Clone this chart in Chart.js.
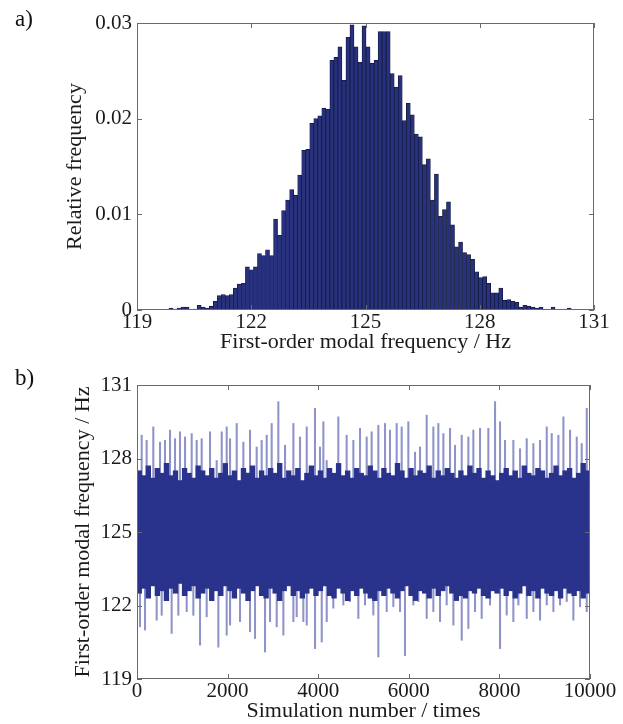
<!DOCTYPE html>
<html>
<head>
<meta charset="utf-8">
<script src="https://cdn.jsdelivr.net/npm/chart.js@4.4.1/dist/chart.umd.min.js"></script>
<style>
  body { margin: 0; background: #fff; }
  #wrap { position: relative; width: 623px; height: 724px; }
  canvas { position: absolute; left: 0; }
  .tag { position: absolute; font-family: "Liberation Serif", serif; font-size: 23px; color: #111; line-height: 1; }
</style>
</head>
<body>
<div id="wrap">
  <canvas id="histChart" width="623" height="362" style="top:0"></canvas>
  <canvas id="simChart" width="623" height="362" style="top:362px"></canvas>
  <div class="tag" style="left:15px; top:7px;">a)</div>
  <div class="tag" style="left:15px; top:366px;">b)</div>
</div>
<script>

// PANEL A DATA (histogram, 100 bins)

const binStart = 119.84;
const binWidth = 0.1056;

const relFreq = [
  0.0002, 0.0001, 0.0002, 0.0003, 0.0003, 0, 0.0001, 0.0005, 0.0003, 0.0002,
  0.0004, 0.0009, 0.0015, 0.0016, 0.0015, 0.0016, 0.0023, 0.0027, 0.0028, 0.0045,
  0.0042, 0.0045, 0.0059, 0.0057, 0.0063, 0.0057, 0.0095, 0.0078, 0.0104, 0.0115,
  0.0126, 0.0120, 0.0141, 0.0167, 0.0168, 0.0195, 0.0200, 0.0203, 0.0211, 0.0210,
  0.0261, 0.0264, 0.0275, 0.0240, 0.0285, 0.0298, 0.0275, 0.0259, 0.0297, 0.0275,
  0.0258, 0.0261, 0.0291, 0.0291, 0.0291, 0.0247, 0.0233, 0.0245, 0.0198, 0.0216,
  0.0204, 0.0184, 0.0181, 0.0152, 0.0158, 0.0115, 0.0142, 0.0098, 0.0105, 0.0113,
  0.0089, 0.0066, 0.0071, 0.0060, 0.0058, 0.0053, 0.0040, 0.0034, 0.0035, 0.0028,
  0.0018, 0.0018, 0.0023, 0.0010, 0.0011, 0.0009, 0.0008, 0.0003, 0.0005, 0.0004,
  0.0003, 0.0002, 0.0003, 0.0001, 0, 0.0003, 0, 0, 0, 0.0002
];

const histXTicks = [119, 122, 125, 128, 131];
const histYTicks = [0, 0.01, 0.02, 0.03];

// PANEL B DATA (10000 simulations: solid core, dark fringe, single spikes)

// edges of the solid core, every 500 simulations (0 ... 10000)
const coreStep = 500;
const coreHigh = [
  126.8, 126.8, 126.9, 126.7, 126.8, 126.9, 126.7, 126.8, 126.9, 126.8, 126.7,
  126.9, 126.8, 126.7, 126.8, 126.9, 126.8, 126.7, 126.9, 126.8, 126.8
];
const coreLow = [
  123.2, 123.2, 123.1, 123.3, 123.2, 123.1, 123.2, 123.3, 123.1, 123.2, 123.3,
  123.1, 123.2, 123.2, 123.3, 123.1, 123.2, 123.3, 123.2, 123.1, 123.2
];

// dark fringe, one value per 100 simulations
const fringeSpan = 100;
const fringeHigh = [
  127.5, 127.3, 127.7, 127.2, 127.6, 127.4, 127.8, 127.3, 127.5, 127.1,
  127.6, 127.4, 127.2, 127.7, 127.5, 127.3, 127.6, 127.2, 127.4, 127.8,
  127.3, 127.5, 127.1, 127.6, 127.4, 127.7, 127.2, 127.5, 127.3, 127.6,
  127.4, 127.8, 127.2, 127.5, 127.3, 127.6, 127.1, 127.4, 127.7, 127.3,
  127.5, 127.2, 127.6, 127.4, 127.8, 127.3, 127.5, 127.2, 127.6, 127.4,
  127.3, 127.7, 127.5, 127.2, 127.6, 127.4, 127.3, 127.8, 127.5, 127.2,
  127.6, 127.3, 127.5, 127.4, 127.7, 127.2, 127.5, 127.3, 127.6, 127.4,
  127.2, 127.5, 127.3, 127.7, 127.4, 127.6, 127.2, 127.5, 127.3, 127.1,
  127.4, 127.6, 127.3, 127.5, 127.2, 127.7, 127.4, 127.3, 127.6, 127.5,
  127.2, 127.4, 127.7, 127.3, 127.5, 127.6, 127.2, 127.4, 127.8, 127.5
];
const fringeLow = [
  122.5, 122.7, 122.3, 122.8, 122.4, 122.6, 122.2, 122.7, 122.5, 122.9,
  122.4, 122.6, 122.8, 122.3, 122.5, 122.7, 122.2, 122.6, 122.4, 122.8,
  122.6, 122.3, 122.7, 122.5, 122.2, 122.6, 122.8, 122.4, 122.3, 122.7,
  122.5, 122.2, 122.6, 122.8, 122.4, 122.6, 122.3, 122.5, 122.7, 122.4,
  122.6, 122.8, 122.4, 122.3, 122.7, 122.5, 122.2, 122.6, 122.4, 122.7,
  122.5, 122.3, 122.2, 122.6, 122.4, 122.7, 122.5, 122.3, 122.6, 122.8,
  122.4, 122.2, 122.6, 122.5, 122.3, 122.7, 122.4, 122.6, 122.8, 122.5,
  122.2, 122.4, 122.3, 122.6, 122.5, 122.7, 122.4, 122.3, 122.6, 122.5,
  122.7, 122.4, 122.6, 122.3, 122.5, 122.8, 122.4, 122.6, 122.3, 122.7,
  122.5, 122.4, 122.6, 122.3, 122.7, 122.5, 122.4, 122.6, 122.3, 122.5
];

// single excursions leave the band from about these levels
const spikeFromHigh = 126.9;
const spikeFromLow = 123.1;

const upSpikeAt = [
  103, 213, 360, 508, 618, 729, 839, 949, 1060, 1207,
  1317, 1428, 1612, 1759, 1870, 1980, 2054, 2201, 2348, 2495,
  2642, 2752, 2863, 2973, 3120, 3268, 3452, 3599, 3747, 3929,
  4040, 4114, 4187, 4444, 4628, 4776, 4923, 5070, 5180, 5328,
  5475, 5585, 5732, 5843, 5990, 6137, 6248, 6395, 6542, 6652,
  6763, 6910, 7020, 7168, 7315, 7425, 7572, 7756, 7904, 8014,
  8124, 8308, 8456, 8603, 8750, 8897, 9045, 9155, 9302, 9413,
  9560, 9707, 9817, 9928
];

const upSpikeTop = [
  128.95, 128.74, 129.29, 128.67, 128.74, 129.16, 128.81, 129.09, 128.88, 129.02,
  128.74, 128.81, 129.09, 127.92, 129.09, 129.29, 128.81, 129.43, 128.67, 129.16,
  128.47, 128.74, 128.95, 129.43, 130.32, 128.54, 129.43, 128.88, 129.29, 130.05,
  128.47, 129.50, 127.92, 129.70, 128.95, 128.74, 129.23, 128.88, 129.09, 129.36,
  129.43, 129.16, 129.43, 129.29, 129.50, 128.26, 128.47, 129.77, 129.29, 129.43,
  129.02, 129.23, 128.54, 128.95, 128.88, 129.16, 129.23, 129.23, 130.32, 129.50,
  128.74, 128.74, 128.40, 128.81, 128.61, 128.74, 129.29, 129.02, 128.95, 129.70,
  129.16, 128.88, 128.61, 130.05
];

const downSpikeAt = [
  66, 177, 434, 545, 765, 913, 1097, 1244, 1391, 1538,
  1796, 1980, 2054, 2274, 2495, 2605, 2826, 2937, 3084, 3231,
  3452, 3525, 3672, 3747, 3930, 4078, 4188, 4334, 4555, 4702,
  4886, 5033, 5217, 5328, 5512, 5659, 5806, 5916, 6100, 6211,
  6395, 6542, 6689, 6836, 6984, 7168, 7315, 7462, 7609, 7793,
  8014, 8161, 8308, 8419, 8603, 8750, 8897, 9045, 9192, 9339,
  9486, 9633, 9780, 9928
];

const downSpikeBottom = [
  121.13, 121.00, 121.40, 121.60, 120.86, 121.60, 121.75, 121.60, 120.38, 121.54,
  120.30, 120.79, 121.20, 121.34, 120.93, 120.65, 120.10, 121.34, 121.13, 120.79,
  121.34, 121.54, 121.34, 121.20, 120.24, 120.51, 121.34, 121.89, 122.02, 122.16,
  121.47, 122.02, 121.61, 119.90, 121.75, 121.95, 121.75, 119.95, 122.02, 122.16,
  121.47, 121.75, 121.34, 122.02, 121.20, 120.58, 121.06, 121.75, 121.47, 122.02,
  120.24, 121.61, 121.34, 122.02, 121.47, 121.75, 121.40, 122.02, 121.75, 122.02,
  122.16, 121.40, 121.95, 121.75
];

const simXTicks = [0, 2000, 4000, 6000, 8000, 10000];
const simYTicks = [119, 122, 125, 128, 131];

// SHARED LOOK

Chart.defaults.font.family = '"Liberation Serif", "Times New Roman", serif';
Chart.defaults.font.size = 21;
Chart.defaults.color = "#1a1a1a";

const titleFont = {size: 22};

// matlab style box with inward ticks on all four sides

const boxPlugin = {
  id: "matlabBox",
  afterDatasetsDraw(chart) {
    const {ctx, chartArea: a} = chart;
    const x = chart.scales.x;
    const y = chart.scales.y;
    ctx.save();
    ctx.strokeStyle = "#6a6a6a";
    ctx.lineWidth = 1;
    ctx.strokeRect(a.left + 0.5, a.top + 0.5, a.right - a.left - 1, a.bottom - a.top - 1);
    ctx.beginPath();
    x.ticks.forEach(t => {
      const px = Math.round(x.getPixelForValue(t.value)) + 0.5;
      ctx.moveTo(px, a.bottom); ctx.lineTo(px, a.bottom - 5);
      ctx.moveTo(px, a.top); ctx.lineTo(px, a.top + 5);
    });
    y.ticks.forEach(t => {
      const py = Math.round(y.getPixelForValue(t.value)) + 0.5;
      ctx.moveTo(a.left, py); ctx.lineTo(a.left + 5, py);
      ctx.moveTo(a.right, py); ctx.lineTo(a.right - 5, py);
    });
    ctx.stroke();
    ctx.restore();
  }
};

function fixedTicks(list) {
  return scale => { scale.ticks = list.map(v => ({value: v})); };
}

const noGrid = {display: false, drawTicks: false};

// HISTOGRAM

new Chart(document.getElementById("histChart"), {
  type: "bar",
  data: {
    datasets: [{
      data: relFreq.map((v, i) => ({x: binStart + binWidth * (i + 0.5), y: v})),
      backgroundColor: "#28317e",
      borderColor: "#141a3e",
      borderWidth: 0.8,
      barPercentage: 1,
      categoryPercentage: 1
    }]
  },
  options: {
    responsive: false,
    animation: false,
    devicePixelRatio: 1,
    layout: {padding: {top: 23, right: 29, left: 0, bottom: 0}},
    plugins: {legend: {display: false}, tooltip: {enabled: false}},
    scales: {
      x: {
        type: "linear", min: 119, max: 131, offset: false,
        grid: noGrid, border: {display: false},
        afterBuildTicks: fixedTicks(histXTicks),
        afterFit: s => { s.height = 52; },
        ticks: {padding: 0, maxRotation: 0, autoSkip: false, callback: v => String(v)},
        title: {display: true, text: "First-order modal frequency / Hz", font: titleFont, padding: {top: 0, bottom: 7}}
      },
      y: {
        min: 0, max: 0.03,
        grid: noGrid, border: {display: false},
        afterBuildTicks: fixedTicks(histYTicks),
        afterFit: s => { s.width = 137; },
        ticks: {padding: 5, callback: v => v === 0 ? "0" : v.toFixed(2)},
        title: {display: true, text: "Relative frequency", font: titleFont, padding: {top: 62, bottom: 0}}
      }
    }
  },
  plugins: [boxPlugin]
});

// SIMULATION HISTORY

const darkBlue = "#29338c";
const lightBlue = "#8e93c9";

new Chart(document.getElementById("simChart"), {
  type: "bar",
  data: {
    datasets: [
      {
        type: "line",
        data: coreHigh.map((v, i) => ({x: i * coreStep, y: v})),
        borderWidth: 0,
        pointRadius: 0,
        backgroundColor: darkBlue,
        fill: "+1"
      },
      {
        type: "line",
        data: coreLow.map((v, i) => ({x: i * coreStep, y: v})),
        borderWidth: 0,
        pointRadius: 0,
        fill: false
      },
      {
        data: fringeHigh.map((h, i) => ({x: (i + 0.5) * fringeSpan, y: [fringeLow[i], h]})),
        backgroundColor: darkBlue,
        borderWidth: 0,
        barThickness: 4.7,
        grouped: false
      },
      {
        data: upSpikeAt.map((s, i) => ({x: s, y: [spikeFromHigh, upSpikeTop[i]]})),
        backgroundColor: lightBlue,
        borderWidth: 0,
        barThickness: 1.4,
        grouped: false
      },
      {
        data: downSpikeAt.map((s, i) => ({x: s, y: [downSpikeBottom[i], spikeFromLow]})),
        backgroundColor: lightBlue,
        borderWidth: 0,
        barThickness: 1.4,
        grouped: false
      }
    ]
  },
  options: {
    responsive: false,
    animation: false,
    devicePixelRatio: 1,
    layout: {padding: {top: 23, right: 33, left: 0, bottom: 0}},
    plugins: {legend: {display: false}, tooltip: {enabled: false}},
    scales: {
      x: {
        type: "linear", min: 0, max: 10000, offset: false,
        grid: noGrid, border: {display: false},
        afterBuildTicks: fixedTicks(simXTicks),
        afterFit: s => { s.height = 45; },
        ticks: {padding: 0, maxRotation: 0, autoSkip: false, callback: v => String(v)},
        title: {display: true, text: "Simulation number / times", font: titleFont, padding: {top: 0, bottom: 0}}
      },
      y: {
        min: 119, max: 131,
        grid: noGrid, border: {display: false},
        afterBuildTicks: fixedTicks(simYTicks),
        afterFit: s => { s.width = 137; },
        ticks: {padding: 5, callback: v => String(v)},
        title: {display: true, text: "First-order modal frequency / Hz", font: titleFont, padding: {top: 70, bottom: 0}}
      }
    }
  },
  plugins: [boxPlugin]
});

</script>
</body>
</html>
